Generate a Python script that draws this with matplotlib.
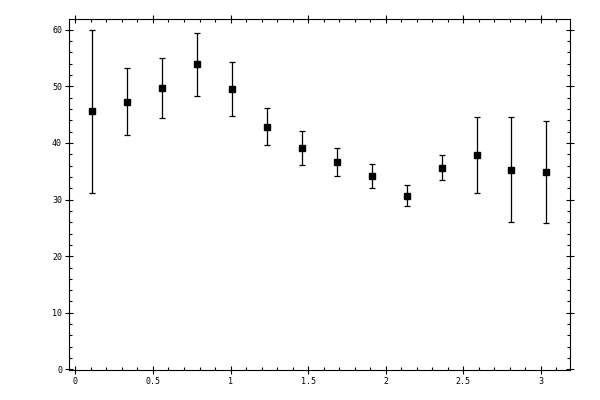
import matplotlib
matplotlib.use("Agg")
import matplotlib.pyplot as plt
from matplotlib.ticker import MultipleLocator, FormatStrFormatter

# values
x_vals = [0.11, 0.335, 0.56, 0.785, 1.01, 1.235, 1.46, 1.685, 1.91, 2.135, 2.36, 2.585, 2.81, 3.035]
y_vals = [45.6, 47.3, 49.7, 53.9, 49.5, 42.9, 39.1, 36.6, 34.2, 30.7, 35.6, 37.9, 35.3, 34.9]
y_err = [14.4, 5.9, 5.3, 5.6, 4.8, 3.2, 3.0, 2.5, 2.1, 1.85, 2.2, 6.7, 9.3, 9.0]

fig = plt.figure(figsize=(6, 4), dpi=100)
ax = fig.add_axes([0.115, 0.075, 0.835, 0.8775])

ax.errorbar(x_vals, y_vals, yerr=y_err, fmt="s", color="black", ms=5,
            elinewidth=0.9, capsize=2.2, capthick=0.9)

ax.set_xlim(-0.041, 3.187)
ax.set_ylim(-0.1, 61.9)

ax.xaxis.set_major_locator(MultipleLocator(0.5))
ax.xaxis.set_minor_locator(MultipleLocator(0.1))
ax.yaxis.set_major_locator(MultipleLocator(10))
ax.yaxis.set_minor_locator(MultipleLocator(2))
ax.xaxis.set_major_formatter(FormatStrFormatter("%g"))

ax.tick_params(which="major", direction="inout", length=6, width=0.8,
               top=True, right=True, labelsize=6, pad=2)
ax.tick_params(which="minor", direction="in", length=2.5, width=0.8,
               top=True, right=True)
for lab in ax.get_xticklabels() + ax.get_yticklabels():
    lab.set_family("DejaVu Sans Mono")
for s in ax.spines.values():
    s.set_linewidth(0.8)

fig.savefig("out.png", dpi=100)
